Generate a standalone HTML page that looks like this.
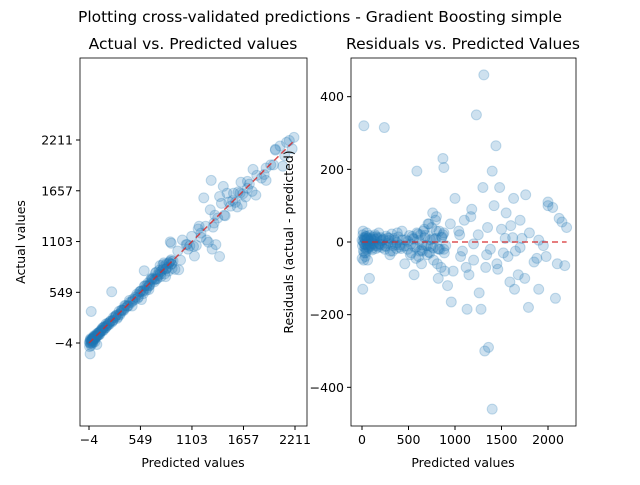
<!DOCTYPE html>
<html><head><meta charset="utf-8"><style>
body{margin:0;background:#fff;font-family:"Liberation Sans","DejaVu Sans",sans-serif}
svg text{font-family:"DejaVu Sans","Liberation Sans",sans-serif;fill:#000}
</style></head><body>
<svg id="c" width="640" height="480">
<text x="320" y="22" font-size="15.5" text-anchor="middle">Plotting cross-validated predictions - Gradient Boosting simple</text>
<text x="193" y="49" font-size="15.5" text-anchor="middle">Actual vs. Predicted values</text>
<text x="463" y="49" font-size="15.5" text-anchor="middle">Residuals vs. Predicted Values</text>
<g id="L"></g>
<g id="R"></g>
</svg>
<script>
const pred=[0,5,10,15,20,25,30,35,40,45,50,55,60,70,80,90,100,110,120,130,140,150,160,170,180,190,200,215,230,245,260,275,290,305,320,335,350,370,390,410,430,450,470,490,510,530,550,570,590,610,630,650,670,690,710,730,750,770,790,810,830,850,870,890,900,20,40,60,80,240,590,870,880,1230,1310,1440,1400,1480,1630,2000,1320,1360,1400,1280,1130,960,1590,1640,2080,1790,760,800,820,920,950,980,1000,1040,1060,1100,1150,1180,1200,1250,1300,1330,1350,1380,1420,1450,1500,1520,1550,1570,1600,1650,1700,1720,1750,1800,1850,1900,1950,2050,2100,2150,2180,2200,1050,1120,1170,1260,1340,1460,1540,1680,1760,1880,1980,2120,880,720,640,560,380,300,150,60,100,1080,1200,1620,1700,1900,2000,
2,8,12,18,22,28,32,38,42,48,52,58,65,75,85,95,105,125,145,165,185,205,225,255,285,315,345,375,405,435,465,495,525,555,585,615,645,675,705,735,765,795,825,855,885,600,620,660,700,740,780,820,860,640,680,720,760,800,840,880,520,540,580,460,420,360,330,280,250,210,175,135,115,95,12,30,50];
const resid=[5,-10,20,-25,12,-30,8,-40,15,-20,25,-8,10,-15,18,-12,6,-22,14,-5,20,-18,9,-10,25,-6,12,-15,8,-20,16,-4,10,-25,22,-10,5,-18,14,-8,30,-12,6,-20,18,-30,10,-15,25,-40,20,-25,35,-10,50,-30,40,-50,60,-60,30,-70,20,-80,-10,320,-30,-50,-100,315,195,230,205,350,460,265,195,150,120,110,-300,-290,-460,-185,-185,-165,-110,-130,-155,-180,80,70,-100,-120,50,-80,120,30,-40,60,-90,90,-50,20,150,-70,40,-20,100,-60,35,-30,80,-40,45,-25,60,10,-100,25,-55,5,-10,95,-60,55,-65,40,20,-70,70,-140,-35,-75,10,-90,130,-45,-40,65,-20,50,-60,-90,25,-35,15,-20,10,-25,-5,12,-15,-130,100,-45,-130,30,-50,
-5,10,-15,5,-8,15,-3,10,-12,4,-6,8,-18,3,-10,12,-4,-8,6,-12,4,-6,10,-2,-14,6,-10,2,-6,8,-14,4,-8,12,-10,6,-16,10,-20,12,-30,22,-25,30,-35,-12,8,-18,14,-22,18,-28,10,30,-20,25,-35,15,-45,-60,-18,-8,-25,12,-10,4,-14,8,-3,-9,2,-7,5,-4,-20,-35,-15];
const NS="http://www.w3.org/2000/svg";
function el(p,t,a){const e=document.createElementNS(NS,t);for(const k in a)e.setAttribute(k,a[k]);p.appendChild(e);return e;}
const Lx=v=>89+(v+4)*(206/2215), Ly=v=>343-(v+4)*(203/2215);
const Rx=v=>362+v*0.093, Ry=v=>242-v*0.3633;
const L=document.getElementById('L'),R=document.getElementById('R');
for(let i=0;i<pred.length;i++){
 const a=pred[i]+resid[i];
 const p=el(L,'circle',{cx:Lx(pred[i]),cy:Ly(a),r:5,fill:'rgba(31,119,180,0.22)',stroke:'rgba(31,119,180,0.25)','stroke-width':1});
 
 
 const q=el(R,'circle',{cx:Rx(pred[i]),cy:Ry(resid[i]),r:5,fill:'rgba(31,119,180,0.22)',stroke:'rgba(31,119,180,0.25)','stroke-width':1});
 
 
}
let l1=el(L,'line',{x1:Lx(-4),y1:Ly(-4),x2:Lx(2211),y2:Ly(2211),stroke:'#d62728','stroke-width':1.5,'stroke-dasharray':'6,4',opacity:0.8});

let l2=el(R,'line',{x1:Rx(0),y1:Ry(0),x2:Rx(2200),y2:Ry(0),stroke:'#d62728','stroke-width':1.5,'stroke-dasharray':'6,4',opacity:0.8});

const tl=[-4,549,1103,1657,2211];
el(L,'rect',{x:80,y:58,width:227,height:368,fill:'none',stroke:'#000','stroke-width':0.8});
tl.forEach(t=>{
 el(L,'line',{x1:Lx(t),x2:Lx(t),y1:426,y2:430,stroke:'#000'});
 const a=el(L,'text',{x:Lx(t),y:444,'font-size':12.5,'text-anchor':'middle'});a.textContent=t==-4?'\u22124':t;
 el(L,'line',{x1:76,x2:80,y1:Ly(t),y2:Ly(t),stroke:'#000'});
 const b=el(L,'text',{x:73,y:Ly(t)+4.5,'font-size':12.5,'text-anchor':'end'});b.textContent=t==-4?'\u22124':t;
});
const rx=[0,500,1000,1500,2000], ry=[-400,-200,0,200,400];
el(R,'rect',{x:351,y:58,width:225,height:368,fill:'none',stroke:'#000','stroke-width':0.8});
rx.forEach(t=>{el(R,'line',{x1:Rx(t),x2:Rx(t),y1:426,y2:430,stroke:'#000'});
 const a=el(R,'text',{x:Rx(t),y:444,'font-size':12.5,'text-anchor':'middle'});a.textContent=t;});
ry.forEach(t=>{el(R,'line',{x1:347,x2:351,y1:Ry(t),y2:Ry(t),stroke:'#000'});
 const a=el(R,'text',{x:344,y:Ry(t)+4.5,'font-size':12.5,'text-anchor':'end'});a.textContent=t<0?'\u2212'+(-t):t;});
let t;
t=el(L,'text',{x:193,y:467,'font-size':12.5,'text-anchor':'middle'});t.textContent='Predicted values';
t=el(R,'text',{x:463,y:467,'font-size':12.5,'text-anchor':'middle'});t.textContent='Predicted values';
t=el(L,'text',{x:25,y:242,'font-size':12.5,'text-anchor':'middle',transform:'rotate(-90 25 242)'});t.textContent='Actual values';
t=el(R,'text',{x:293,y:242,'font-size':12.5,'text-anchor':'middle',transform:'rotate(-90 293 242)'});t.textContent='Residuals (actual - predicted)';
</script>
</body></html>
